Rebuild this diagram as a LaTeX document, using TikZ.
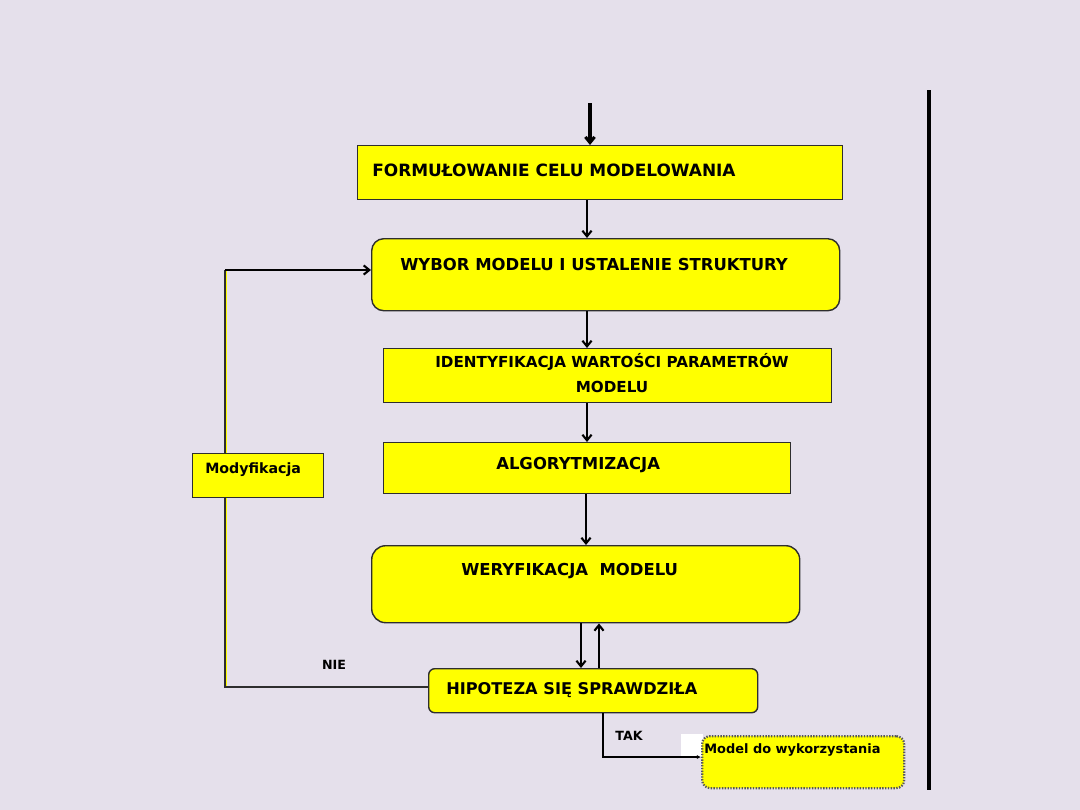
\documentclass[tikz,border=0pt]{standalone}
\usepackage{fontspec}
\setmainfont{DejaVu Sans}
\usetikzlibrary{arrows.meta}
\definecolor{bg}{HTML}{E5E0EB}
\definecolor{ylw}{HTML}{FFFF00}
\definecolor{edge}{HTML}{2E2E2E}
\newlength\pxu \setlength\pxu{0.025cm}
\begin{document}
\begin{tikzpicture}[x=0.025cm,y=-0.025cm,
  box/.style={draw=edge, line width=1pt, fill=ylw, inner sep=0, anchor=north west},
  lbl/.style={inner sep=0, font=\bfseries\fontsize{11.7}{17.7}\selectfont, anchor=west},
  small/.style={inner sep=0, font=\bfseries\fontsize{9}{11}\selectfont},
  arr/.style={line width=1.5pt, -{Straight Barb[length=4pt,width=6.5pt]}},
]
\useasboundingbox[fill=bg] (0,0) rectangle (1080,810);

% right vertical bar
\coordinate (bartop) at (929,90);
\coordinate (barbot) at (929,790);
\draw[line width=2.9pt] (bartop) -- (barbot);

% boxes
\node[box, minimum width=485\pxu, minimum height=54\pxu] (f1) at (357,145) {};
\node[box, rounded corners=12\pxu, minimum width=468\pxu, minimum height=72\pxu] (wyb) at (371,238) {};
\node[box, minimum width=448\pxu, minimum height=54\pxu] (ide) at (383,348) {};
\node[box, minimum width=407\pxu, minimum height=51\pxu] (alg) at (383,442) {};
\node[box, rounded corners=14\pxu, minimum width=428\pxu, minimum height=77\pxu] (wer) at (371,545) {};
\node[box, rounded corners=6\pxu, minimum width=329\pxu, minimum height=44\pxu] (hip) at (428,668) {};

% texts
\node[lbl, font=\bfseries\fontsize{12.05}{17.7}\selectfont] (t1) at (372,170) {FORMUŁOWANIE CELU MODELOWANIA};
\node[lbl] (t2) at (400,265) {WYBOR MODELU I USTALENIE STRUKTURY};
\node[lbl, anchor=center, align=center, font=\bfseries\fontsize{10.8}{17.7}\selectfont] (t3) at (612,373) {IDENTYFIKACJA WARTOŚCI PARAMETRÓW\\MODELU};
\node[lbl] (t4) at (496,465) {ALGORYTMIZACJA};
\node[lbl] (t5) at (461,571) {WERYFIKACJA\ \ MODELU};
\node[lbl, font=\bfseries\fontsize{11.5}{17.7}\selectfont] (t6) at (446,690) {HIPOTEZA SIĘ SPRAWDZIŁA};

% main flow arrows
\coordinate (in) at (590,103);
\draw[arr, line width=2.2pt] (in) -- (in |- f1.north);
\draw[arr] (f1.south -| 587,0) -- (wyb.north -| 587,0);
\draw[arr] (wyb.south -| 587,0) -- (ide.north -| 587,0);
\draw[arr] (ide.south -| 587,0) -- (alg.north -| 587,0);
\draw[arr] (alg.south -| 586,0) -- (wer.north -| 586,0);
\draw[arr] (wer.south -| 581,0) -- (hip.north -| 581,0);
\draw[arr] (hip.north -| 599,0) -- (wer.south -| 599,0);

% NIE loop
\coordinate (loopbot) at (225,687);
\coordinate (looptop) at (225,270);
\draw[ylw, line width=1.1pt] (226.6,687) -- (226.6,270);
\draw[edge, line width=1.1pt] (hip.west |- loopbot) -- (loopbot) -- (looptop);
\draw[arr, line width=1.5pt] (looptop) -- (looptop -| wyb.west);
\node[small] (nie) at (334,665) {NIE};

\node[box, line width=0.9pt, minimum width=131\pxu, minimum height=44\pxu] (mod) at (192,453) {};
\node[inner sep=0, anchor=west, font=\bfseries\fontsize{10.1}{12}\selectfont] (tmod) at (205,470) {Modyfikacja};

% TAK branch
\fill[white] (681,734) rectangle (703,757);
\node[box, draw=edge!80, densely dotted, line width=1.6pt, rounded corners=8\pxu, minimum width=202\pxu, minimum height=52\pxu] (model) at (701,735) {};
\coordinate (takc) at (603,757);
\draw[arr, line width=1.5pt, -{Latex[length=3pt,width=3pt]}] (hip.south -| takc) -- (takc) -- (takc -| model.west);
\node[small] (tak) at (629,736) {TAK};
\node[inner sep=0, anchor=west, font=\bfseries\fontsize{9.2}{11}\selectfont] (tmodel) at (704,750) {Model do wykorzystania};
\end{tikzpicture}
\end{document}
